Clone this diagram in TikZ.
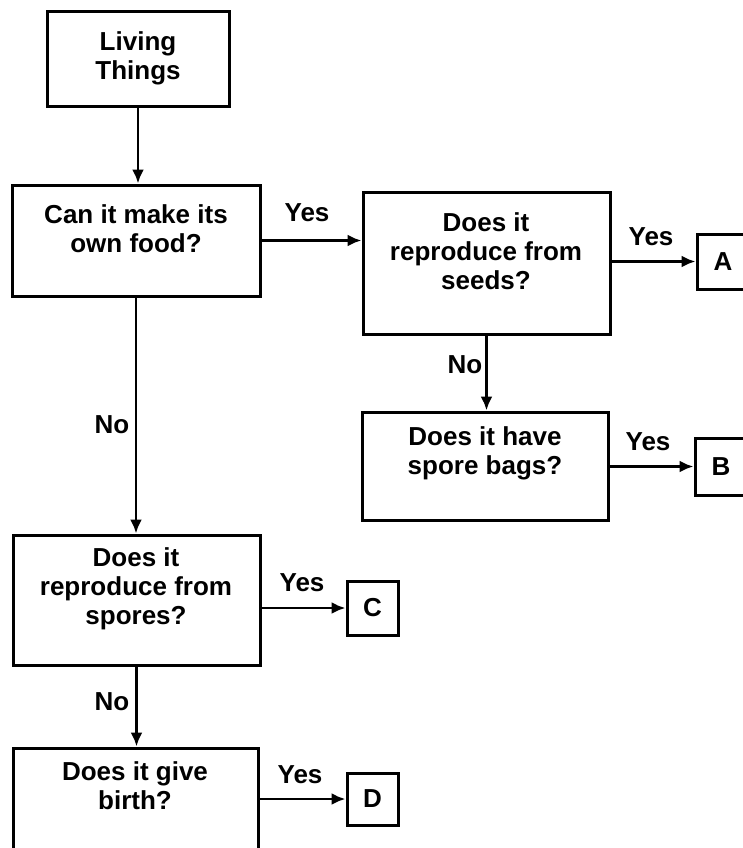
\documentclass[tikz,border=0pt]{standalone}
\usepackage{fontspec}
\setmainfont{Liberation Sans}
\usetikzlibrary{arrows.meta}
\begin{document}
\begin{tikzpicture}[x=1pt,y=-1pt,
  box/.style={draw, line width=3pt, inner sep=0pt},
  txt/.style={font=\fontsize{26}{29}\selectfont\bfseries, align=center, inner sep=0pt},
  lbl/.style={font=\fontsize{26}{29}\selectfont\bfseries, inner sep=0pt},
  arr/.style={line width=2.8pt, -{Latex[length=14pt,width=12pt]}}]
\useasboundingbox (0,0) rectangle (743,848);
\clip (0,0) rectangle (743,848);
% boxes
\node[box, minimum width=182pt, minimum height=95pt]  (b1) at (138,59.5) {};
\node[box, minimum width=248pt, minimum height=111pt] (b2) at (136,240.5) {};
\node[box, minimum width=247pt, minimum height=142pt] (b3) at (486.5,263) {};
\node[box, minimum width=246pt, minimum height=108pt] (b4) at (485,466) {};
\node[box, minimum width=247pt, minimum height=130pt] (b5) at (136.5,600) {};
\node[box, minimum width=245pt, minimum height=122pt] (b6) at (135.5,809) {};
\node[box, minimum width=52pt, minimum height=55pt] (A) at (723,261.5) {};
\node[box, minimum width=52pt, minimum height=57pt] (B) at (721,466.5) {};
\node[box, minimum width=51pt, minimum height=54pt] (C) at (372.5,608) {};
\node[box, minimum width=51pt, minimum height=52pt] (D) at (372.5,799) {};
% texts
\node[txt] (t1) at (138,58) {Living\\Things};
\node[txt] (t2) at (136,229) {Can it make its\\own food?};
\node[txt] (t3) at (486,251) {Does it\\reproduce from\\seeds?};
\node[txt] (t4) at (485,453) {Does it have\\spore bags?};
\node[txt] (t5) at (136,589) {Does it\\reproduce from\\spores?};
\node[txt] (t6) at (135,786) {Does it give\\birth?};
\node[lbl] (tA) at (A.center) {A};
\node[lbl] (tB) at (B.center) {B};
\node[lbl] (tC) at (C.center) {C};
\node[lbl] (tD) at (D.center) {D};
% connectors
\draw[arr] (b1.south) -- (b1.south |- b2.north);
\draw[arr] (b2.east) -- (b2.east -| b3.west);
\draw[arr] (b3.east |- A.west) -- (A.west);
\draw[arr] (b3.south) -- (b3.south |- b4.north);
\draw[arr] (b4.east |- B.west) -- (B.west);
\draw[arr] (b2.south) -- (b2.south |- b5.north);
\draw[arr] (b5.east |- C.west) -- (C.west);
\draw[arr] (b5.south) -- (b5.south |- b6.north);
\draw[arr] (b6.east |- D.west) -- (D.west);
% labels
\node[lbl] (y1) at (307,213) {Yes};
\node[lbl] (y2) at (651,237) {Yes};
\node[lbl] (n1) at (465,365) {No};
\node[lbl] (y3) at (648,442) {Yes};
\node[lbl] (n2) at (112,425) {No};
\node[lbl] (y4) at (302,583) {Yes};
\node[lbl] (n3) at (112,702) {No};
\node[lbl] (y5) at (300,775) {Yes};
\end{tikzpicture}
\end{document}
